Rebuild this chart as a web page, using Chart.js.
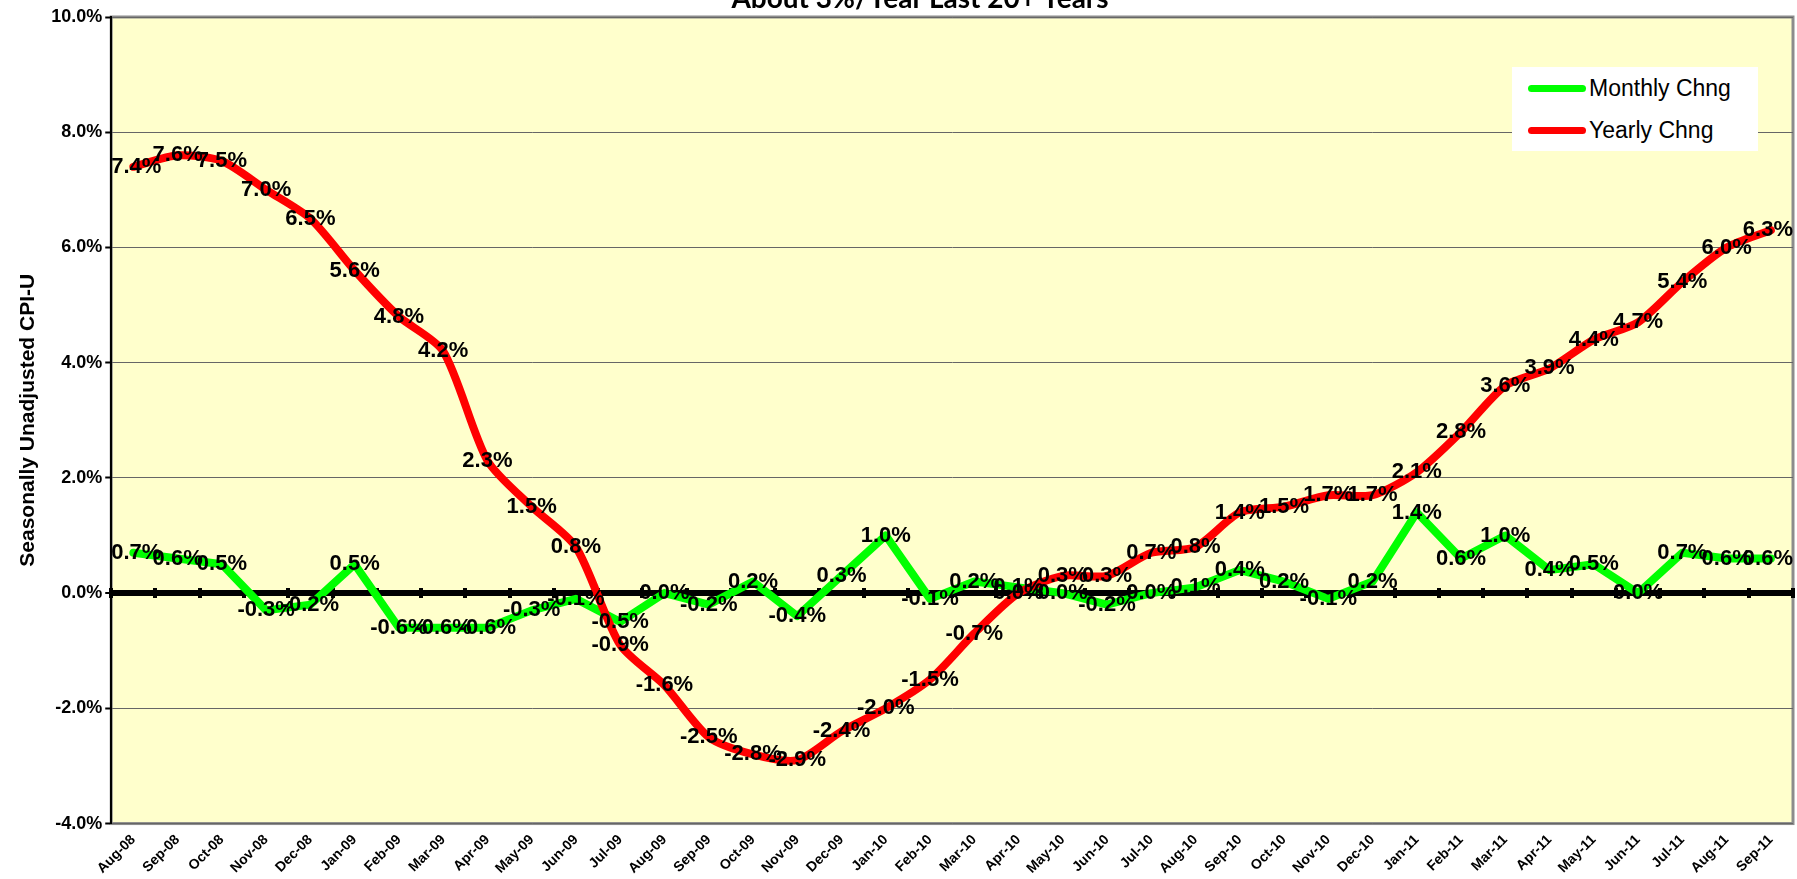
<!DOCTYPE html>
<html>
<head>
<meta charset="utf-8">
<script src="https://cdn.jsdelivr.net/npm/chart.js@4.4.0/dist/chart.umd.min.js"></script>
<style>
  html, body { margin: 0; padding: 0; background: #fff; overflow: hidden; }
  #wrap { position: absolute; left: 0; top: 0; width: 1797px; height: 879px; }
  #title { position: absolute; left: 920px; top: -17px; transform: translateX(-50%); white-space: nowrap;
           font-family: Lato, 'Open Sans', sans-serif; font-weight: bold; font-size: 28px; line-height: 1; color: #000; }
  #legend { position: absolute; left: 1512px; top: 67px; width: 246px; height: 84px; background: #fff;
            font-family: 'Liberation Sans', Arial, sans-serif; font-size: 23px; color: #000; }
  #legend .row { position: absolute; left: 0; width: 246px; height: 30px; }
  #legend .swatch { position: absolute; left: 16px; top: 12px; width: 58px; height: 7px; border-radius: 4px; }
  #legend .txt { position: absolute; left: 77px; top: 1px; line-height: 28px; }
</style>
</head>
<body>
<div id="wrap"><canvas id="cpiChart"></canvas></div>
<div id="title">About 3%/Year Last 20+ Years</div>
<div id="legend"></div>
<script>
// 月份
const months = ['Aug-08','Sep-08','Oct-08','Nov-08','Dec-08',
  'Jan-09','Feb-09','Mar-09','Apr-09','May-09','Jun-09','Jul-09','Aug-09','Sep-09','Oct-09','Nov-09','Dec-09',
  'Jan-10','Feb-10','Mar-10','Apr-10','May-10','Jun-10','Jul-10','Aug-10','Sep-10','Oct-10','Nov-10','Dec-10',
  'Jan-11','Feb-11','Mar-11','Apr-11','May-11','Jun-11','Jul-11','Aug-11','Sep-11'];

// 月变化 (%)
const monthlyChng = [0.7, 0.6, 0.5, -0.3, -0.2,
  0.5, -0.6, -0.6, -0.6, -0.3, -0.1, -0.5, 0.0, -0.2, 0.2, -0.4, 0.3,
  1.0, -0.1, 0.2, 0.1, 0.0, -0.2, 0.0, 0.1, 0.4, 0.2, -0.1, 0.2,
  1.4, 0.6, 1.0, 0.4, 0.5, 0.0, 0.7, 0.6, 0.6];

// 年变化 (%)
const yearlyChng = [7.4, 7.6, 7.5, 7.0, 6.5,
  5.6, 4.8, 4.2, 2.3, 1.5, 0.8, -0.9, -1.6, -2.5, -2.8, -2.9, -2.4,
  -2.0, -1.5, -0.7, 0.0, 0.3, 0.3, 0.7, 0.8, 1.4, 1.5, 1.7, 1.7,
  2.1, 2.8, 3.6, 3.9, 4.4, 4.7, 5.4, 6.0, 6.3];

// y 轴刻度
const yMin = -4, yMax = 10, yStep = 2;

const FONT = "'Liberation Sans', Arial, sans-serif";

// 绘图区背景和边框
const plotFrame = {
    id: 'plotFrame',
    beforeDraw(chart) {
        const { ctx, chartArea: a } = chart;
        ctx.save();
        ctx.fillStyle = '#FFFFCC';
        ctx.fillRect(a.left, a.top, a.right - a.left, a.bottom - a.top);
        ctx.strokeStyle = '#8c8c8c';
        ctx.lineWidth = 3;
        ctx.strokeRect(a.left, a.top, a.right - a.left, a.bottom - a.top);
        ctx.restore();
    }
};

// 数据标签
const valueLabels = {
    id: 'valueLabels',
    afterDatasetsDraw(chart) {
        const { ctx, chartArea: a } = chart;
        ctx.save();
        ctx.font = 'bold 22px ' + FONT;
        ctx.fillStyle = '#000';
        ctx.textAlign = 'center';
        ctx.textBaseline = 'middle';
        chart.data.datasets.forEach((ds, i) => {
            const meta = chart.getDatasetMeta(i);
            meta.data.forEach((pt, j) => {
                const txt = ds.data[j].toFixed(1) + '%';
                const half = ctx.measureText(txt).width / 2;
                const x = Math.min(Math.max(pt.x, a.left + half), a.right - half);
                ctx.fillText(txt, x, pt.y);
            });
        });
        ctx.restore();
    }
};

const ctx = document.getElementById('cpiChart').getContext('2d');
const chart = new Chart(ctx, {
    type: 'line',
    data: {
        labels: months,
        datasets: [{
            label: 'Monthly Chng',
            data: monthlyChng,
            borderColor: '#00FF00',
            backgroundColor: '#00FF00',
            borderWidth: 8,
            borderJoinStyle: 'round',
            borderCapStyle: 'round',
            pointRadius: 0,
            tension: 0,
            order: 1
        }, {
            label: 'Yearly Chng',
            data: yearlyChng,
            borderColor: '#FF0000',
            backgroundColor: '#FF0000',
            borderWidth: 8,
            borderJoinStyle: 'round',
            borderCapStyle: 'round',
            pointRadius: 0,
            tension: 0.25,
            order: 0
        }]
    },
    options: {
        responsive: true,
        maintainAspectRatio: false,
        animation: false,
        layout: { padding: { top: 17, left: 16, right: 4, bottom: 2 } },
        plugins: {
            legend: { display: false },
            tooltip: { enabled: false }
        },
        scales: {
            x: {
                offset: true,
                grid: { display: false },
                border: { display: false },
                ticks: {
                    autoSkip: false,
                    minRotation: 45,
                    maxRotation: 45,
                    padding: 0,
                    color: '#000',
                    font: { family: FONT, size: 14, weight: 'bold' }
                }
            },
            // 零线上的刻度
            x0: {
                type: 'category',
                position: { y: 0.09 },
                offset: true,
                border: { display: false },
                grid: {
                    offset: true,
                    drawOnChartArea: false,
                    drawTicks: true,
                    tickLength: 10,
                    color: '#000',
                    lineWidth: 4
                },
                ticks: { display: false }
            },
            y: {
                min: yMin,
                max: yMax,
                ticks: {
                    stepSize: yStep,
                    padding: 3,
                    color: '#000',
                    font: { family: FONT, size: 18, weight: 'bold' },
                    callback: v => v.toFixed(1) + '%'
                },
                grid: {
                    color: c => c.tick && c.tick.value === 0 ? '#000' : '#666',
                    lineWidth: c => c.tick && c.tick.value === 0 ? 6 : 1,
                    tickColor: '#000',
                    tickWidth: 2,
                    tickLength: 6
                },
                border: { color: '#000', width: 2 },
                title: {
                    display: true,
                    text: 'Seasonally Unadjusted CPI-U',
                    color: '#000',
                    padding: { top: 0, bottom: 7 },
                    font: { family: FONT, size: 21, weight: 'bold' }
                }
            }
        }
    },
    plugins: [plotFrame, valueLabels]
});

// 图例
const legendBox = document.getElementById('legend');
chart.data.datasets.forEach((ds, i) => {
    const row = document.createElement('div');
    row.className = 'row';
    row.style.top = (6 + i * 42) + 'px';
    const sw = document.createElement('span');
    sw.className = 'swatch';
    sw.style.background = ds.borderColor;
    const t = document.createElement('span');
    t.className = 'txt';
    t.textContent = ds.label;
    row.appendChild(sw);
    row.appendChild(t);
    legendBox.appendChild(row);
});
</script>
</body>
</html>
